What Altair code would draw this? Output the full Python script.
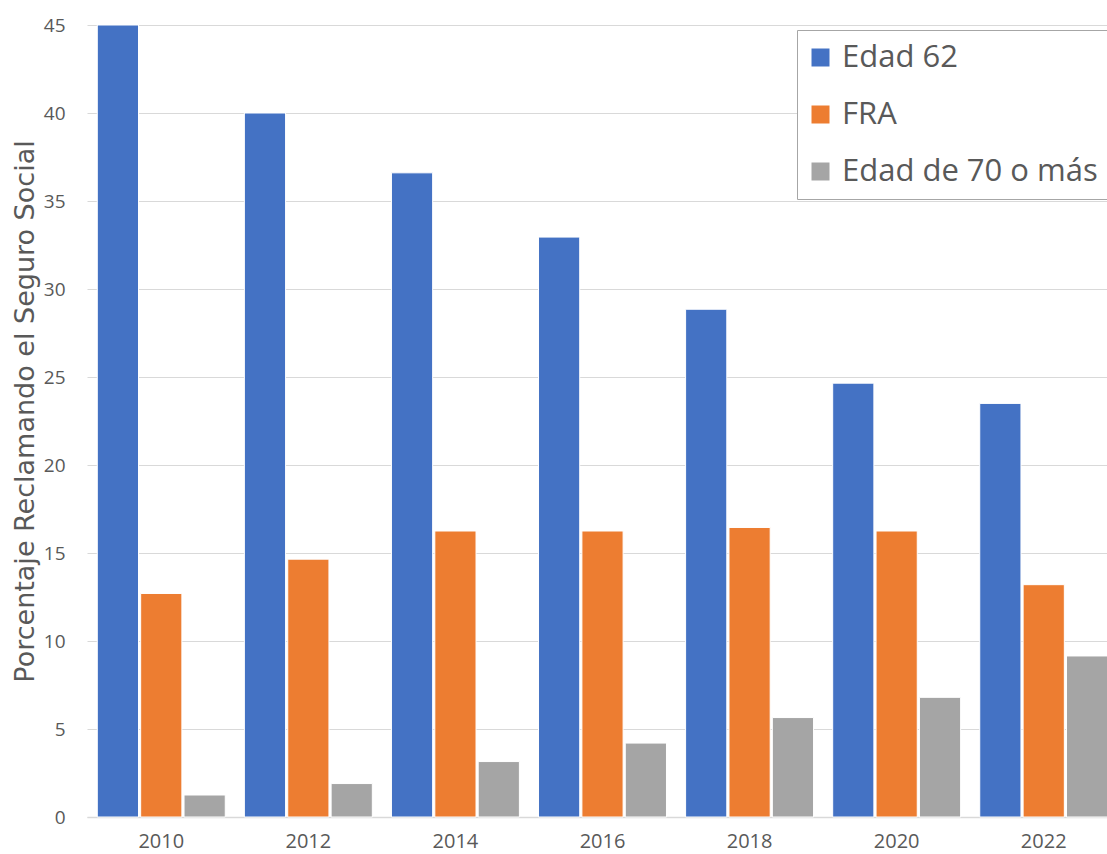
import altair as alt
import pandas as pd

years = ["2010", "2012", "2014", "2016", "2018", "2020", "2022"]
series = ["Edad 62", "FRA", "Edad de 70 o más"]
edad62 = [45.0, 40.0, 36.6, 32.95, 28.85, 24.65, 23.5]
fra = [12.7, 14.65, 16.25, 16.25, 16.45, 16.25, 13.2]
edad70 = [1.25, 1.9, 3.15, 4.2, 5.65, 6.8, 9.15]
colors = ["#4472C4", "#ED7D31", "#A5A5A5"]

rows = []
for name, vals in zip(series, [edad62, fra, edad70]):
    for y, v in zip(years, vals):
        rows.append({"year": y, "serie": name, "value": v})
df = pd.DataFrame(rows)

FONT = "Open Sans"
GRAY = "#595959"

chart = alt.Chart(df).mark_bar(stroke="white", strokeWidth=1).encode(
    x=alt.X("year:N", sort=years,
            scale=alt.Scale(paddingInner=0.13, paddingOuter=0.07, range=[0, 1031]),
            axis=alt.Axis(title=None, labelAngle=0, ticks=False, domain=True,
                          domainColor="#d9d9d9", domainWidth=1.5,
                          labelFont=FONT, labelFontSize=20, labelColor=GRAY,
                          labelPadding=14)),
    xOffset=alt.XOffset("serie:N", sort=series, scale=alt.Scale(paddingInner=0.05)),
    y=alt.Y("value:Q",
            scale=alt.Scale(domain=[0, 45], nice=False),
            axis=alt.Axis(title="Porcentaje Reclamando el Seguro Social",
                          values=list(range(0, 50, 5)), domain=False, ticks=False,
                          grid=True, gridColor="#d9d9d9", gridWidth=1.2,
                          labelFont=FONT, labelFontSize=19, labelColor=GRAY,
                          labelPadding=22,
                          titleFont="DejaVu Sans", titleFontSize=27, titleFontWeight="normal",
                          titleColor=GRAY, titleAngle=270, titleX=-54, titleY=386,
                          titleAlign="center", titleBaseline="alphabetic")),
    color=alt.Color("serie:N", sort=series,
                    scale=alt.Scale(domain=series, range=colors),
                    legend=alt.Legend(title=None, orient="none", legendX=710, legendY=5,
                                      symbolType="square", symbolSize=324,
                                      symbolStrokeWidth=0,
                                      labelFont=FONT, labelFontSize=31, labelColor=GRAY,
                                      labelLimit=500, rowPadding=25,
                                      labelExpr="datum.label + '      '",
                                      padding=12, strokeColor="#a6a6a6",
                                      fillColor="white", symbolOffset=-4,
                                      labelOffset=6)),
).properties(
    width=1020, height=792,
    autosize=alt.AutoSizeParams(type="none"),
    padding={"left": 87, "top": 25, "right": 0, "bottom": 37},
).configure_view(stroke=None)

chart.save("out.html", embed_options={"renderer": "svg", "actions": False})
